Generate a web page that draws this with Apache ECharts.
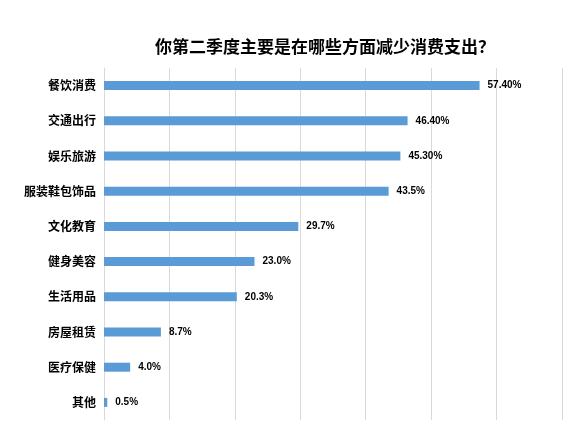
<!DOCTYPE html>
<html><head><meta charset="utf-8">
<script src="https://cdn.jsdelivr.net/npm/echarts@6/dist/echarts.min.js"></script>
<style>html,body{margin:0;padding:0;background:#fff}#c{width:582px;height:440px}</style>
</head><body><div id="c"></div>
<script>
const categories=['餐饮消费','交通出行','娱乐旅游','服装鞋包饰品','文化教育','健身美容','生活用品','房屋租赁','医疗保健','其他'];
const values=[57.4,46.4,45.3,43.5,29.7,23.0,20.3,8.7,4.0,0.5];
const labels=['57.40%','46.40%','45.30%','43.5%','29.7%','23.0%','20.3%','8.7%','4.0%','0.5%'];
const chart=echarts.init(document.getElementById('c'));
chart.setOption({
  animation:false,
  title:{text:'你第二季度主要是在哪些方面减少消费支出？',left:320,top:33,textAlign:'center',
    textStyle:{fontSize:17,fontWeight:'bold',color:'#000',fontFamily:'Noto Sans CJK SC'}},
  grid:{left:104,right:20,top:68,bottom:20},
  xAxis:{type:'value',min:0,max:70,interval:10,axisLabel:{show:false},
    splitLine:{lineStyle:{color:'#d9d9d9'}},axisLine:{show:false},axisTick:{show:false}},
  yAxis:{type:'category',data:categories,inverse:true,
    axisLine:{lineStyle:{color:'#d9d9d9'}},axisTick:{show:false},
    axisLabel:{color:'#000',fontSize:12,fontWeight:'bold',fontFamily:'Noto Sans CJK SC',margin:8}},
  series:[{type:'bar',data:values,barWidth:9,itemStyle:{color:'#5b9bd5'},
    label:{show:true,position:'right',distance:8,color:'#000',fontSize:10,fontWeight:'bold',
      formatter:p=>labels[p.dataIndex]}}]
});
</script></body></html>
